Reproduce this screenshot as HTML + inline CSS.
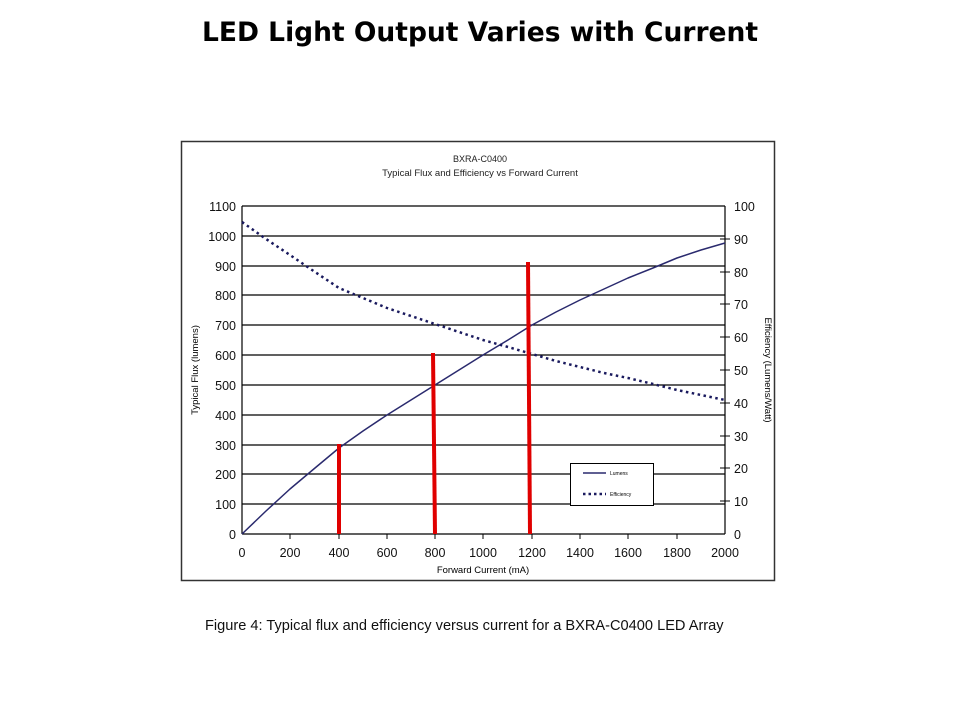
<!DOCTYPE html>
<html><head><style>body{margin:0;background:#fff;width:960px;height:720px;overflow:hidden}</style></head><body>
<svg width="960" height="720" xmlns="http://www.w3.org/2000/svg" font-family="Liberation Sans, sans-serif">
<text x="480" y="41" text-anchor="middle" font-size="26.5" font-weight="bold" font-family="DejaVu Sans, sans-serif">LED Light Output Varies with Current</text>
<rect x="181.5" y="141.5" width="593" height="439" fill="#fff" stroke="#333" stroke-width="1.5"/>
<text x="480" y="162" text-anchor="middle" font-size="9" fill="#222">BXRA-C0400</text>
<text x="480" y="176" text-anchor="middle" font-size="9.5" fill="#222">Typical Flux and Efficiency vs Forward Current</text>
<g stroke="#000" stroke-width="1.2">
<line x1="242" y1="206" x2="242" y2="534"/><line x1="725" y1="206" x2="725" y2="534"/>
<line x1="242" y1="206" x2="725" y2="206"/>
<line x1="242" y1="236" x2="725" y2="236"/><line x1="242" y1="266" x2="725" y2="266"/>
<line x1="242" y1="295" x2="725" y2="295"/><line x1="242" y1="325" x2="725" y2="325"/>
<line x1="242" y1="355" x2="725" y2="355"/><line x1="242" y1="385" x2="725" y2="385"/>
<line x1="242" y1="415" x2="725" y2="415"/><line x1="242" y1="445" x2="725" y2="445"/>
<line x1="242" y1="474" x2="725" y2="474"/><line x1="242" y1="504" x2="725" y2="504"/>
<line x1="242" y1="534" x2="725" y2="534"/>
</g>
<g stroke="#000" stroke-width="1">
<line x1="290" y1="534" x2="290" y2="539"/><line x1="339" y1="534" x2="339" y2="539"/><line x1="387" y1="534" x2="387" y2="539"/><line x1="435" y1="534" x2="435" y2="539"/><line x1="483" y1="534" x2="483" y2="539"/><line x1="532" y1="534" x2="532" y2="539"/><line x1="580" y1="534" x2="580" y2="539"/><line x1="628" y1="534" x2="628" y2="539"/><line x1="677" y1="534" x2="677" y2="539"/>
<line x1="720" y1="239" x2="730" y2="239"/><line x1="720" y1="272" x2="730" y2="272"/><line x1="720" y1="304" x2="730" y2="304"/><line x1="720" y1="337" x2="730" y2="337"/><line x1="720" y1="370" x2="730" y2="370"/><line x1="720" y1="403" x2="730" y2="403"/><line x1="720" y1="436" x2="730" y2="436"/><line x1="720" y1="468" x2="730" y2="468"/><line x1="720" y1="501" x2="730" y2="501"/>
</g>
<g font-size="12.5" text-anchor="end" fill="#111">
<text x="236" y="211">1100</text><text x="236" y="241">1000</text><text x="236" y="271">900</text><text x="236" y="300">800</text><text x="236" y="330">700</text><text x="236" y="360">600</text><text x="236" y="390">500</text><text x="236" y="420">400</text><text x="236" y="450">300</text><text x="236" y="479">200</text><text x="236" y="509">100</text><text x="236" y="539">0</text>
</g>
<g font-size="12.5" fill="#111">
<text x="734" y="211">100</text><text x="734" y="244">90</text><text x="734" y="277">80</text><text x="734" y="309">70</text><text x="734" y="342">60</text><text x="734" y="375">50</text><text x="734" y="408">40</text><text x="734" y="441">30</text><text x="734" y="473">20</text><text x="734" y="506">10</text><text x="734" y="539">0</text>
</g>
<g font-size="12.5" text-anchor="middle" fill="#111">
<text x="242" y="557">0</text><text x="290" y="557">200</text><text x="339" y="557">400</text><text x="387" y="557">600</text><text x="435" y="557">800</text><text x="483" y="557">1000</text><text x="532" y="557">1200</text><text x="580" y="557">1400</text><text x="628" y="557">1600</text><text x="677" y="557">1800</text><text x="725" y="557">2000</text>
</g>
<text x="483" y="573" text-anchor="middle" font-size="9.5">Forward Current (mA)</text>
<text transform="translate(198,370) rotate(-90)" text-anchor="middle" font-size="9.5">Typical Flux (lumens)</text>
<text transform="translate(765,370) rotate(90)" text-anchor="middle" font-size="9.5">Efficiency (Lumens/Watt)</text>
<polyline points="242,534 266,511 290,489 315,468 339,448 363,431 387,415 411,400 435,385 459,370 483,355 508,340 532,325 556,312 580,300 604,289 628,278 653,268 677,258 701,250 725,243" fill="none" stroke="#2a2a6e" stroke-width="1.5" stroke-linejoin="round"/>
<polyline points="242,222 266,239 290,255 315,272 339,288 363,298 387,308 411,316 435,324 459,332 483,340 508,347 532,354 556,361 580,367 604,373 628,378 653,384 677,390 701,395 725,400" fill="none" stroke="#1a1a5e" stroke-width="2.5" stroke-dasharray="2.5,3.5"/>
<g stroke="#e00000" stroke-width="4">
<line x1="339" y1="534" x2="339" y2="444"/><line x1="435" y1="534" x2="433" y2="353"/><line x1="530" y1="534" x2="528" y2="262"/>
</g>
<rect x="570.5" y="463.5" width="83" height="42" fill="#fff" stroke="#000"/>
<line x1="583" y1="473" x2="606" y2="473" stroke="#2a2a6e" stroke-width="1.5"/>
<text x="610" y="475" font-size="5">Lumens</text>
<line x1="583" y1="494" x2="606" y2="494" stroke="#1a1a5e" stroke-width="2.5" stroke-dasharray="2.5,3"/>
<text x="610" y="496" font-size="5">Efficiency</text>
<text x="205" y="630" font-size="14.6" fill="#111">Figure 4:  Typical flux and efficiency versus current for a BXRA-C0400 LED Array</text>
</svg>
</body></html>
